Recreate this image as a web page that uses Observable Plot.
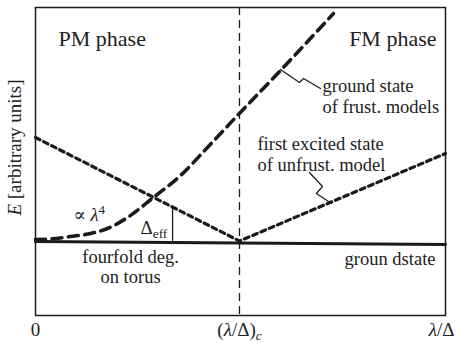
<!DOCTYPE html>
<html><head><meta charset="utf-8">
<script src="https://cdn.jsdelivr.net/npm/d3@7"></script>
<script src="https://cdn.jsdelivr.net/npm/@observablehq/plot@0.6"></script>
<style>body{margin:0;background:#fff} svg text{font-family:"Liberation Serif","Times New Roman","DejaVu Serif",Times,serif !important}</style>
</head><body><div id="chart"></div>
<script>
// ---- data (λ/Δ in units of (λ/Δ)c, E in arbitrary units) ----
const tickValues = [0, 1, 2.01];
const tickLabels = ["0", "(λ/Δ)c", "λ/Δ"];
const lambdaC = 1;

const groundX = [0, 2.01];
const groundE = [0.74, 0.71];

const unfrustX = [0, 1, 2.01];
const unfrustE = [1.78, 0.745, 1.62];

const frustX = [0, 0.074, 0.172, 0.27, 0.353, 0.451, 0.578, 0.711, 0.843, 0.99, 1.201, 1.461];
const frustE = [0.76, 0.765, 0.79, 0.82, 0.87, 0.98, 1.18, 1.40, 1.68, 2.00, 2.45, 3.02];

const gapX = 0.672, gapE = [0.73, 1.09];

const leader1X = [1.201, 1.294, 1.314, 1.397];
const leader1E = [2.46, 2.33, 2.37, 2.27];
const leader2X = [1.343, 1.407, 1.377, 1.451];
const leader2E = [1.43, 1.29, 1.22, 1.12];

const labels = [
  {x: 0.113, y: 2.70, text: "PM phase", anchor: "start", size: 22},
  {x: 1.966, y: 2.70, text: "FM phase", anchor: "end", size: 22},
  {x: 1.407, y: 2.24, text: "ground state", anchor: "start", size: 18.5},
  {x: 1.407, y: 2.03, text: "of frust. models", anchor: "start", size: 18.5},
  {x: 1.088, y: 1.66, text: "first excited state", anchor: "start", size: 18.5},
  {x: 1.088, y: 1.45, text: "of unfrust. model", anchor: "start", size: 18.5},
  {x: 0.186, y: 0.95, text: "∝ λ4", anchor: "start", size: 18.5},
  {x: 0.515, y: 0.82, text: "Δeff", anchor: "start", size: 19},
  {x: 0.466, y: 0.53, text: "fourfold deg.", anchor: "middle", size: 18.5},
  {x: 0.466, y: 0.33, text: "on torus", anchor: "middle", size: 18.5},
  {x: 1.961, y: 0.51, text: "groun dstate", anchor: "end", size: 18.5}
];

const pts = (xs, ys) => xs.map((x, i) => ({x, y: ys[i]}));
const ink = "#1b1b1b";
const serif = "'Liberation Serif', 'DejaVu Serif', serif";

const plot = Plot.plot({
  width: 456, height: 343,
  marginLeft: 35, marginRight: 11, marginTop: 7, marginBottom: 28,
  style: {fontFamily: serif, color: "#222", background: "#fff"},
  x: {domain: [0, 2.01], axis: null},
  y: {domain: [0, 3.08], axis: null},
  marks: [
    Plot.ruleX([lambdaC], {stroke: ink, strokeWidth: 1.3, strokeDasharray: "8,5"}),
    Plot.line(pts(groundX, groundE), {x: "x", y: "y", stroke: ink, strokeWidth: 3}),
    Plot.line(pts(unfrustX, unfrustE), {x: "x", y: "y", stroke: ink, strokeWidth: 3.2, strokeDasharray: "5,4"}),
    Plot.line(pts(frustX, frustE), {x: "x", y: "y", curve: "monotone-x", stroke: ink, strokeWidth: 3.6, strokeDasharray: "10,6.5"}),
    Plot.ruleX([{x: gapX, y1: gapE[0], y2: gapE[1]}], {x: "x", y1: "y1", y2: "y2", stroke: ink, strokeWidth: 1.3}),
    Plot.line(pts(leader1X, leader1E), {x: "x", y: "y", stroke: ink, strokeWidth: 1.2}),
    Plot.line(pts(leader2X, leader2E), {x: "x", y: "y", stroke: ink, strokeWidth: 1.2}),
    ...labels.map(d => Plot.text([d], {x: "x", y: "y", text: "text", textAnchor: d.anchor, lineAnchor: "bottom", fontSize: d.size, fill: "#222"})),
    Plot.text(["E [arbitrary units]"], {frameAnchor: "left", y: [1.68], text: d => d, rotate: -90, dx: -15, textAnchor: "middle", lineAnchor: "bottom", fontSize: 19, fill: "#222"}),
    Plot.axisX({ticks: tickValues, tickFormat: (d, i) => tickLabels[i], tickSize: 0, tickPadding: 7, fontSize: 19, label: null}),
    Plot.frame({stroke: ink, strokeWidth: 1.5})
  ]
});

const rich = {
  "(λ/Δ)c": [["("], ["λ", "it"], ["/Δ)"], ["c", "it-sub"]],
  "λ/Δ": [["λ", "it"], ["/Δ"]],
  "Δeff": [["Δ"], ["eff", "sub"]],
  "∝ λ4": [["∝ "], ["λ", "it"], ["4", "sup"]],
  "E [arbitrary units]": [["E", "it"], [" [arbitrary units]"]]
};
d3.select(plot).selectAll("text").each(function() {
  const key = this.textContent;
  this.style.fontFamily = serif;
  const spec = rich[key];
  if (!spec) return;
  const el = d3.select(this);
  el.text(null);
  spec.forEach(([s, st]) => {
    const t = el.append("tspan").text(s);
    if (st && st.includes("it")) t.attr("font-style", "italic");
    if (st && st.includes("sub")) t.attr("font-size", "0.7em").attr("dy", "0.3em");
    if (st === "sup") t.attr("font-size", "0.7em").attr("dy", "-0.5em");
  });
  if (key === "λ/Δ") el.attr("text-anchor", "end").attr("dx", 9);
});
document.getElementById("chart").appendChild(plot);
</script>
</body></html>
